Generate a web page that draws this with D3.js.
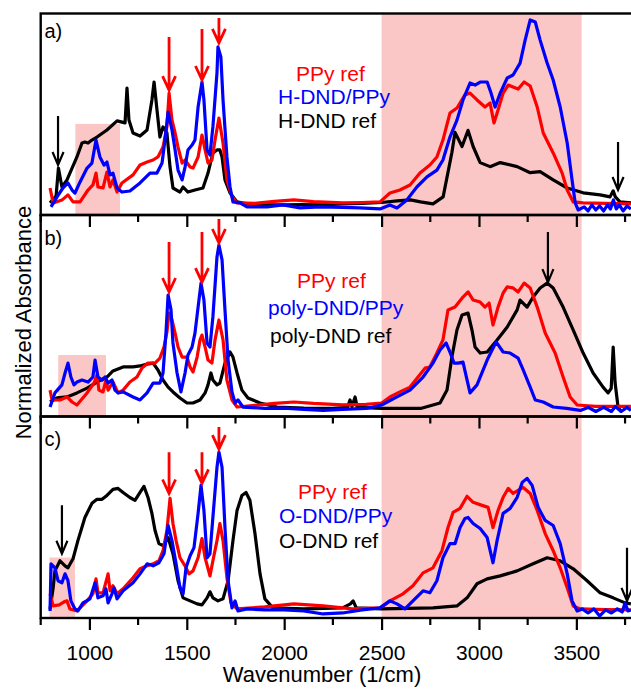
<!DOCTYPE html>
<html>
<head>
<meta charset="utf-8">
<script src="https://cdn.jsdelivr.net/npm/d3@7"></script>
<style>
  body { margin: 0; background: #fff; }
  text { font-family: "Liberation Sans", Arial, Helvetica, sans-serif; }
</style>
</head>
<body>
<div id="chart"></div>
<script>
///////////////////////////////////////////////////////////////////////////
///////////////////////////////// Data ////////////////////////////////////
///////////////////////////////////////////////////////////////////////////
// [wavenumber (1/cm), normalized absorbance]

// panel a
var ppyA = [[798,0.134],[814,0.06],[859,0.074],[890,0.1],[916,0.065],[952,0.065],[993,0.124],[1018,0.149],[1034,0.208],[1044,0.139],[1070,0.134],[1090,0.213],[1106,0.139],[1121,0.174],[1142,0.114],[1167,0.159],[1224,0.199],[1260,0.248],[1296,0.263],[1327,0.273],[1352,0.288],[1378,0.337],[1398,0.437],[1409,0.605],[1424,0.471],[1440,0.407],[1455,0.337],[1476,0.258],[1491,0.273],[1517,0.238],[1532,0.233],[1558,0.288],[1578,0.397],[1594,0.323],[1609,0.258],[1629,0.273],[1645,0.372],[1665,0.481],[1686,0.357],[1706,0.174],[1732,0.09],[1758,0.06],[1850,0.058],[1950,0.068],[2050,0.075],[2150,0.066],[2300,0.06],[2400,0.062],[2492,0.065],[2543,0.109],[2594,0.124],[2646,0.149],[2697,0.208],[2748,0.248],[2784,0.288],[2815,0.372],[2851,0.506],[2887,0.531],[2928,0.596],[2954,0.605],[2990,0.571],[3031,0.536],[3057,0.556],[3077,0.457],[3098,0.521],[3124,0.605],[3150,0.645],[3175,0.635],[3201,0.625],[3232,0.66],[3263,0.64],[3299,0.536],[3330,0.407],[3381,0.308],[3427,0.208],[3453,0.124],[3484,0.065],[3535,0.06],[3650,0.058],[3780,0.055]]
var hdndPpy = [[803,0.04],[834,0.09],[864,0.134],[890,0.159],[911,0.124],[926,0.109],[952,0.164],[988,0.233],[1013,0.258],[1034,0.372],[1054,0.288],[1075,0.248],[1090,0.263],[1106,0.199],[1121,0.208],[1142,0.134],[1167,0.114],[1208,0.119],[1260,0.159],[1311,0.208],[1347,0.208],[1373,0.258],[1388,0.372],[1404,0.511],[1424,0.422],[1440,0.323],[1455,0.223],[1476,0.174],[1491,0.238],[1506,0.323],[1527,0.347],[1542,0.372],[1558,0.536],[1578,0.66],[1588,0.571],[1604,0.323],[1619,0.298],[1634,0.437],[1655,0.705],[1660,0.834],[1675,0.784],[1686,0.571],[1706,0.288],[1722,0.139],[1737,0.065],[1773,0.06],[1809,0.04],[1912,0.04],[1994,0.05],[2081,0.035],[2184,0.04],[2300,0.038],[2389,0.035],[2492,0.03],[2543,0.05],[2579,0.035],[2630,0.075],[2681,0.139],[2733,0.189],[2784,0.223],[2815,0.273],[2851,0.387],[2887,0.471],[2918,0.571],[2954,0.655],[2980,0.645],[3006,0.66],[3042,0.66],[3062,0.605],[3083,0.536],[3109,0.605],[3145,0.68],[3175,0.695],[3211,0.754],[3237,0.868],[3263,0.968],[3289,0.958],[3314,0.868],[3350,0.754],[3381,0.67],[3417,0.536],[3453,0.357],[3478,0.174],[3494,0.06],[3509,0.025],[3540,0.04],[3560,0.02],[3580,0.05],[3600,0.025],[3620,0.045],[3640,0.02],[3660,0.05],[3675,0.03],[3690,0.075],[3705,0.03],[3720,0.05],[3740,0.02],[3760,0.045],[3780,0.03]]
var hdndRef = [[798,0.06],[829,0.094],[841,0.233],[859,0.139],[885,0.174],[936,0.288],[962,0.357],[977,0.362],[993,0.357],[1013,0.372],[1039,0.387],[1090,0.422],[1142,0.467],[1183,0.457],[1193,0.63],[1203,0.471],[1224,0.407],[1260,0.392],[1296,0.422],[1321,0.571],[1332,0.66],[1347,0.521],[1362,0.387],[1378,0.437],[1398,0.407],[1414,0.238],[1429,0.134],[1465,0.114],[1481,0.139],[1506,0.114],[1542,0.124],[1583,0.134],[1609,0.208],[1634,0.308],[1655,0.323],[1670,0.323],[1681,0.288],[1696,0.174],[1722,0.109],[1758,0.065],[1809,0.055],[1900,0.05],[2000,0.05],[2100,0.052],[2200,0.05],[2300,0.055],[2400,0.058],[2500,0.062],[2580,0.07],[2648,0.075],[2700,0.065],[2764,0.055],[2816,0.09],[2861,0.31],[2877,0.41],[2913,0.34],[2944,0.42],[2970,0.34],[3006,0.26],[3057,0.24],[3109,0.26],[3196,0.24],[3263,0.21],[3314,0.215],[3381,0.174],[3453,0.134],[3535,0.11],[3622,0.1],[3673,0.09],[3689,0.12],[3700,0.09],[3724,0.065],[3780,0.06]]

// panel b
var ppyB = [[798,0.131],[808,0.082],[849,0.082],[885,0.097],[911,0.072],[936,0.057],[988,0.117],[1024,0.166],[1039,0.206],[1049,0.131],[1070,0.122],[1085,0.181],[1096,0.131],[1121,0.171],[1147,0.117],[1173,0.131],[1208,0.171],[1244,0.196],[1270,0.24],[1301,0.265],[1337,0.265],[1362,0.29],[1383,0.345],[1398,0.419],[1409,0.513],[1424,0.479],[1440,0.414],[1455,0.345],[1476,0.295],[1501,0.295],[1517,0.246],[1532,0.221],[1553,0.295],[1568,0.38],[1578,0.404],[1594,0.345],[1609,0.28],[1629,0.265],[1645,0.38],[1665,0.479],[1686,0.38],[1706,0.181],[1732,0.082],[1758,0.047],[1850,0.055],[1950,0.065],[2050,0.072],[2150,0.065],[2300,0.058],[2420,0.06],[2500,0.067],[2543,0.097],[2594,0.122],[2646,0.146],[2687,0.196],[2723,0.24],[2748,0.246],[2784,0.315],[2815,0.38],[2841,0.529],[2877,0.543],[2918,0.593],[2944,0.618],[2970,0.578],[3006,0.568],[3031,0.543],[3052,0.563],[3072,0.454],[3098,0.543],[3124,0.613],[3145,0.643],[3175,0.638],[3201,0.618],[3232,0.662],[3263,0.638],[3299,0.543],[3340,0.414],[3391,0.315],[3432,0.196],[3468,0.097],[3504,0.057],[3600,0.05],[3780,0.05]]
var polyDndPpy = [[798,0.047],[823,0.117],[859,0.157],[875,0.216],[890,0.265],[905,0.196],[921,0.157],[936,0.171],[962,0.181],[993,0.171],[1018,0.196],[1029,0.28],[1044,0.196],[1065,0.181],[1080,0.196],[1096,0.166],[1116,0.181],[1131,0.131],[1147,0.117],[1173,0.122],[1224,0.097],[1260,0.082],[1296,0.117],[1327,0.166],[1362,0.166],[1378,0.216],[1393,0.414],[1404,0.603],[1419,0.529],[1429,0.365],[1450,0.216],[1470,0.122],[1491,0.216],[1506,0.305],[1527,0.345],[1542,0.414],[1558,0.543],[1573,0.662],[1588,0.578],[1604,0.365],[1619,0.345],[1634,0.494],[1655,0.792],[1665,0.851],[1681,0.777],[1696,0.529],[1712,0.28],[1732,0.122],[1748,0.067],[1763,0.082],[1788,0.047],[1900,0.04],[2000,0.042],[2100,0.035],[2200,0.03],[2300,0.035],[2420,0.04],[2500,0.057],[2579,0.097],[2646,0.131],[2713,0.196],[2764,0.265],[2800,0.33],[2831,0.365],[2851,0.32],[2872,0.265],[2892,0.265],[2918,0.27],[2939,0.181],[2954,0.117],[2990,0.157],[3042,0.28],[3088,0.37],[3124,0.32],[3160,0.315],[3201,0.29],[3227,0.231],[3263,0.146],[3289,0.082],[3330,0.072],[3381,0.047],[3450,0.04],[3520,0.03],[3560,0.045],[3600,0.025],[3640,0.045],[3680,0.025],[3700,0.05],[3730,0.025],[3760,0.045],[3780,0.03]]
var polyDndRef = [[798,0.072],[834,0.092],[885,0.097],[936,0.117],[988,0.141],[1039,0.171],[1090,0.196],[1121,0.226],[1173,0.246],[1224,0.246],[1260,0.251],[1296,0.26],[1327,0.265],[1352,0.231],[1378,0.181],[1404,0.146],[1429,0.122],[1465,0.092],[1501,0.067],[1532,0.067],[1568,0.082],[1594,0.117],[1609,0.157],[1624,0.216],[1634,0.181],[1655,0.157],[1670,0.166],[1696,0.265],[1722,0.32],[1737,0.295],[1758,0.216],[1783,0.131],[1814,0.092],[1876,0.067],[1963,0.047],[2100,0.042],[2250,0.04],[2325,0.045],[2338,0.082],[2348,0.05],[2364,0.097],[2375,0.045],[2500,0.04],[2700,0.04],[2800,0.067],[2836,0.131],[2861,0.295],[2887,0.429],[2913,0.504],[2944,0.513],[2964,0.429],[2980,0.345],[3006,0.315],[3042,0.32],[3093,0.38],[3145,0.444],[3196,0.529],[3211,0.578],[3247,0.543],[3278,0.593],[3314,0.638],[3350,0.662],[3381,0.638],[3432,0.543],[3484,0.429],[3535,0.315],[3586,0.216],[3637,0.146],[3663,0.117],[3679,0.14],[3689,0.345],[3699,0.166],[3714,0.047],[3730,0.025]]

// panel c
var ppyC = [[798,0.12],[814,0.06],[845,0.065],[870,0.08],[885,0.085],[900,0.045],[936,0.035],[952,0.05],[988,0.085],[1018,0.12],[1034,0.194],[1044,0.125],[1070,0.125],[1096,0.219],[1106,0.135],[1121,0.16],[1142,0.12],[1173,0.145],[1224,0.2],[1260,0.244],[1296,0.259],[1327,0.269],[1357,0.284],[1378,0.334],[1398,0.434],[1414,0.594],[1429,0.469],[1445,0.384],[1465,0.299],[1491,0.259],[1511,0.219],[1532,0.234],[1558,0.299],[1578,0.394],[1594,0.299],[1619,0.209],[1634,0.284],[1655,0.384],[1670,0.469],[1686,0.384],[1706,0.2],[1727,0.075],[1758,0.045],[1900,0.055],[2050,0.07],[2200,0.06],[2350,0.045],[2492,0.05],[2543,0.085],[2610,0.12],[2661,0.16],[2713,0.224],[2764,0.249],[2810,0.334],[2841,0.449],[2867,0.524],[2903,0.544],[2939,0.604],[2970,0.574],[3016,0.559],[3047,0.549],[3072,0.449],[3098,0.534],[3124,0.599],[3150,0.643],[3175,0.618],[3201,0.633],[3227,0.648],[3263,0.618],[3299,0.534],[3340,0.419],[3381,0.334],[3417,0.249],[3453,0.15],[3484,0.06],[3520,0.045],[3650,0.042],[3780,0.04]]
var odndPpy = [[798,0.035],[803,0.269],[823,0.249],[839,0.185],[859,0.175],[875,0.219],[890,0.185],[905,0.085],[926,0.045],[941,0.035],[967,0.075],[1003,0.095],[1029,0.175],[1044,0.1],[1070,0.11],[1085,0.145],[1096,0.075],[1116,0.12],[1126,0.15],[1142,0.095],[1173,0.135],[1224,0.175],[1260,0.219],[1296,0.269],[1327,0.259],[1357,0.274],[1383,0.319],[1404,0.459],[1424,0.384],[1445,0.269],[1465,0.15],[1481,0.12],[1496,0.249],[1517,0.309],[1537,0.349],[1558,0.519],[1573,0.658],[1588,0.534],[1604,0.299],[1619,0.319],[1634,0.499],[1655,0.748],[1665,0.823],[1681,0.748],[1696,0.449],[1712,0.185],[1732,0.05],[1748,0.085],[1763,0.035],[1809,0.045],[1900,0.04],[2000,0.04],[2100,0.035],[2200,0.02],[2300,0.025],[2400,0.04],[2492,0.05],[2543,0.085],[2579,0.07],[2620,0.045],[2661,0.085],[2713,0.135],[2748,0.125],[2784,0.185],[2815,0.299],[2851,0.369],[2877,0.369],[2903,0.449],[2928,0.494],[2944,0.499],[2970,0.469],[3006,0.444],[3042,0.399],[3072,0.274],[3093,0.384],[3124,0.519],[3160,0.544],[3196,0.599],[3222,0.673],[3247,0.693],[3273,0.658],[3304,0.549],[3340,0.484],[3381,0.459],[3417,0.369],[3453,0.219],[3478,0.085],[3504,0.035],[3530,0.045],[3560,0.025],[3590,0.045],[3620,0.01],[3650,0.04],[3680,0.025],[3710,0.045],[3735,0.03],[3750,0.075],[3765,0.035],[3780,0.04]]
var odndRef = [[798,0.045],[814,0.15],[823,0.234],[849,0.284],[875,0.259],[890,0.249],[916,0.294],[941,0.384],[977,0.499],[1013,0.569],[1039,0.589],[1065,0.589],[1090,0.608],[1121,0.638],[1147,0.643],[1173,0.623],[1208,0.598],[1234,0.584],[1260,0.623],[1280,0.653],[1301,0.598],[1321,0.519],[1337,0.434],[1357,0.369],[1378,0.359],[1404,0.399],[1429,0.319],[1455,0.185],[1481,0.1],[1517,0.085],[1553,0.07],[1578,0.065],[1604,0.1],[1619,0.13],[1634,0.1],[1660,0.085],[1686,0.095],[1712,0.185],[1737,0.384],[1758,0.534],[1783,0.608],[1804,0.623],[1824,0.584],[1850,0.419],[1876,0.219],[1901,0.095],[1942,0.05],[2100,0.045],[2300,0.05],[2340,0.07],[2354,0.085],[2370,0.05],[2500,0.045],[2764,0.05],[2887,0.06],[2939,0.1],[2990,0.17],[3042,0.194],[3109,0.209],[3196,0.234],[3278,0.269],[3350,0.299],[3417,0.284],[3484,0.244],[3555,0.185],[3622,0.125],[3689,0.1],[3750,0.075],[3780,0.07]]

// legend labels, highlighted ranges, arrows
var panelNames = ["a)", "b)", "c)"]
var legendA = ["PPy ref", "H-DND/PPy", "H-DND ref"]
var legendB = ["PPy ref", "poly-DND/PPy", "poly-DND ref"]
var legendC = ["PPy ref", "O-DND/PPy", "O-DND ref"]
var bandRange = [2500, 3527]
var boxA = [928, 1157, 0.452]   // [from, to, top]
var boxB = [840, 1085, 0.305]
var boxC = [795, 926, 0.30]
// [wavenumber, tail value, tip value]
var arrowsRedA = [[1409, 0.883, 0.62], [1578, 0.923, 0.67], [1665, 0.978, 0.854]]
var arrowsRedB = [[1409, 0.866, 0.618], [1578, 0.916, 0.667], [1665, 0.98, 0.861]]
var arrowsRedC = [[1409, 0.823, 0.618], [1578, 0.823, 0.668], [1665, 0.948, 0.838]]
var arrowsBlackA = [[839, 0.491, 0.248], [3714, 0.362, 0.124]]
var arrowsBlackB = [[3354, 0.916, 0.667]]
var arrowsBlackC = [[859, 0.559, 0.319], [3760, 0.349, 0.085]]
var majorTicks = [1000, 1500, 2000, 2500, 3000, 3500]
var minorTicks = [750, 1250, 1750, 2250, 2750, 3250, 3750]

///////////////////////////////////////////////////////////////////////////
//////////////////////////////// Layout ///////////////////////////////////
///////////////////////////////////////////////////////////////////////////
var totalWidth = 631
var totalHeight = 690
var plotLeft = 40.7
var panelTops = [13.5, 215, 416.5]
var panelHeight = 201.5
var red = "#ff0000", blue = "#0000ff", black = "#000000", pink = "#fbc6c6"

var svg = d3.select("#chart").append("svg")
  .attr("width", totalWidth)
  .attr("height", totalHeight)

var x = d3.scaleLinear()
  .domain([750, 3800])
  .range([plotLeft, 634.8])

var panels = [
  {name: panelNames[0], series: [hdndRef, ppyA, hdndPpy], legend: legendA, box: boxA,
   red: arrowsRedA, black: arrowsBlackA, legendX: [296, 278, 278], legendY: [67.5, 90.5, 114]},
  {name: panelNames[1], series: [polyDndRef, ppyB, polyDndPpy], legend: legendB, box: boxB,
   red: arrowsRedB, black: arrowsBlackB, legendX: [297, 268, 270], legendY: [73, 100, 128]},
  {name: panelNames[2], series: [odndRef, ppyC, odndPpy], legend: legendC, box: boxC,
   red: arrowsRedC, black: arrowsBlackC, legendX: [298, 279, 279], legendY: [82, 106, 131.5]}
]
var seriesColors = [black, red, blue]
var legendColors = [red, blue, black]

///////////////////////////////////////////////////////////////////////////
////////////////////////////// Backgrounds ////////////////////////////////
///////////////////////////////////////////////////////////////////////////

// broad highlighted band running through all three panels
svg.append("rect")
  .attr("x", x(bandRange[0]))
  .attr("y", panelTops[0])
  .attr("width", x(bandRange[1]) - x(bandRange[0]))
  .attr("height", panelTops[2] + panelHeight - panelTops[0])
  .attr("fill", pink)

panels.forEach(function(p, i) {
  var top = panelTops[i]
  var y = d3.scaleLinear().domain([0, 1]).range([top + panelHeight, top])
  p.y = y

  svg.append("clipPath").attr("id", "clip" + i)
    .append("rect")
      .attr("x", plotLeft).attr("y", top)
      .attr("width", totalWidth).attr("height", panelHeight)

  svg.append("rect")
    .attr("x", x(p.box[0]))
    .attr("y", y(p.box[2]))
    .attr("width", x(p.box[1]) - x(p.box[0]))
    .attr("height", y(0) - y(p.box[2]))
    .attr("fill", pink)
})

///////////////////////////////////////////////////////////////////////////
//////////////////////////////// Spectra //////////////////////////////////
///////////////////////////////////////////////////////////////////////////

panels.forEach(function(p, i) {
  var line = d3.line()
    .x(d => x(d[0]))
    .y(d => p.y(d[1]))

  var g = svg.append("g").attr("clip-path", "url(#clip" + i + ")")
  p.series.forEach(function(s, j) {
    g.append("path")
      .datum(s)
      .attr("d", line)
      .attr("fill", "none")
      .attr("stroke", seriesColors[j])
      .attr("stroke-width", 3.2)
      .attr("stroke-linejoin", "round")
  })

  // arrows
  function arrow(a, color, w, head, len) {
    var xa = x(a[0]), y0 = p.y(a[1]), y1 = p.y(a[2])
    svg.append("path")
      .attr("d", "M" + xa + "," + y0 + "L" + xa + "," + y1 +
                 "M" + (xa - head) + "," + (y1 - len) + "L" + xa + "," + y1 + "L" + (xa + head) + "," + (y1 - len))
      .attr("fill", "none")
      .attr("stroke", color)
      .attr("stroke-width", w)
  }
  p.red.forEach(a => arrow(a, red, 2.8, 6.5, 14))
  p.black.forEach(a => arrow(a, black, 2.2, 5.5, 13))

  // legend
  p.legend.forEach(function(t, j) {
    svg.append("text")
      .attr("x", p.legendX[j])
      .attr("y", panelTops[i] + p.legendY[j])
      .attr("fill", legendColors[j])
      .attr("font-size", "21px")
      .text(t)
  })

  svg.append("text")
    .attr("x", 44.5)
    .attr("y", panelTops[i] + [24.5, 30, 29.5][i])
    .attr("font-size", "20px")
    .text(p.name)
})

///////////////////////////////////////////////////////////////////////////
///////////////////////////// Frames & axes ///////////////////////////////
///////////////////////////////////////////////////////////////////////////

panels.forEach(function(p, i) {
  var top = panelTops[i]
  svg.append("rect")
    .attr("x", plotLeft)
    .attr("y", top)
    .attr("width", 700)
    .attr("height", panelHeight)
    .attr("fill", "none")
    .attr("stroke", black)
    .attr("stroke-width", 2.4)

  var axis = d3.axisBottom(x)
    .tickValues(majorTicks)
    .tickSize(12)
    .tickFormat(i === 2 ? d3.format("d") : "")

  var ga = svg.append("g")
    .attr("transform", "translate(0," + (top + panelHeight) + ")")
    .call(axis)
  ga.select(".domain").remove()
  ga.selectAll(".tick line").attr("stroke-width", 2.2)
  ga.selectAll(".tick text")
    .attr("font-size", "21px")
    .attr("font-family", "Liberation Sans, Arial, sans-serif")
    .attr("fill", black)
    .attr("dy", null)
    .attr("y", 42)

  ga.selectAll(".minor")
    .data(minorTicks)
    .enter().append("line")
      .attr("class", "minor")
      .attr("x1", d => x(d)).attr("x2", d => x(d))
      .attr("y1", 0).attr("y2", 7)
      .attr("stroke", black)
      .attr("stroke-width", 2.2)
})

// axis titles
svg.append("text")
  .attr("x", 322)
  .attr("y", 682)
  .attr("text-anchor", "middle")
  .attr("font-size", "22px")
  .text("Wavenumber (1/cm)")

svg.append("text")
  .attr("transform", "translate(31,322.5) rotate(-90)")
  .attr("text-anchor", "middle")
  .attr("font-size", "22px")
  .text("Normalized Absorbance")
</script>
</body>
</html>
